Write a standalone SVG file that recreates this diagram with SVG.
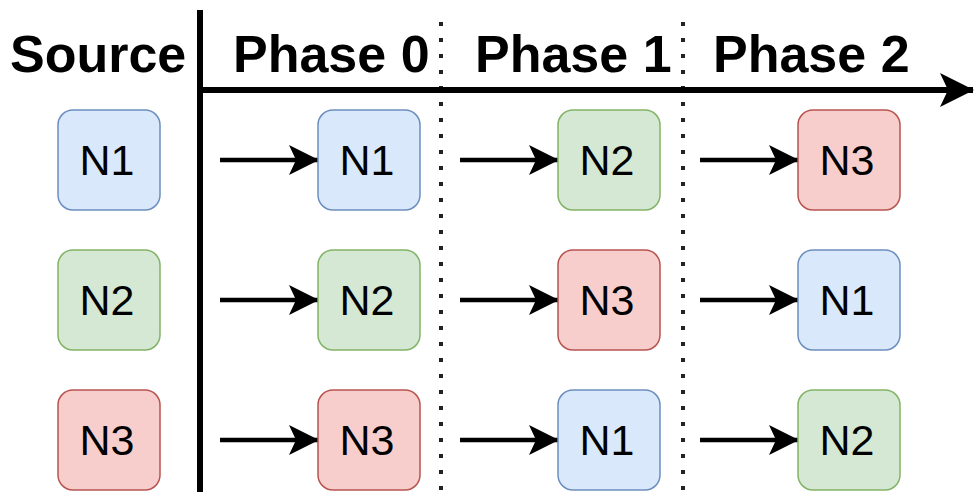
<svg xmlns="http://www.w3.org/2000/svg" width="975" height="492" viewBox="0 0 975 492">
<style>
.hdr{font-family:"Liberation Sans",Arial,Helvetica,sans-serif;font-weight:bold;font-size:52px;fill:#000}
.lbl{font-family:"Liberation Sans",Arial,Helvetica,sans-serif;font-size:43px;fill:#000;text-anchor:middle}
.blue{fill:#dae8fc;stroke:#6c8ebf;stroke-width:1.5}
.green{fill:#d5e8d4;stroke:#82b366;stroke-width:1.5}
.red{fill:#f8cecc;stroke:#b85450;stroke-width:1.5}
.dot{stroke:#222;stroke-width:4;stroke-dasharray:4 12;fill:none}
.conn{stroke:#000;stroke-width:4.5;fill:none}
</style>
<defs>
<marker id="ah" viewBox="0 0 30 32" refX="29" refY="16" markerWidth="30" markerHeight="32" markerUnits="userSpaceOnUse" orient="auto">
<path d="M0,1 L30,16 L0,31 L7,16 Z" fill="#000"/>
</marker>
<marker id="bigah" viewBox="0 0 34 36" refX="33" refY="18" markerWidth="34" markerHeight="36" markerUnits="userSpaceOnUse" orient="auto">
<path d="M0,1 L34,18 L0,35 L8,18 Z" fill="#000"/>
</marker>
</defs>
<rect width="975" height="492" fill="#fff"/>
<g id="headers">
<text class="hdr" x="10" y="72">Source</text>
<text class="hdr" x="233" y="72">Phase 0</text>
<text class="hdr" x="475" y="72">Phase 1</text>
<text class="hdr" x="713" y="72">Phase 2</text>
</g>
<g id="axes">
<line x1="441" y1="22" x2="441" y2="492" class="dot"/>
<line x1="683" y1="22" x2="683" y2="492" class="dot"/>
<line x1="200" y1="10" x2="200" y2="492" stroke="#000" stroke-width="6"/>
<line x1="197" y1="90" x2="973" y2="90" stroke="#000" stroke-width="6" marker-end="url(#bigah)"/>
</g>
<g id="connectors">
<line x1="220" y1="160" x2="318" y2="160" class="conn" marker-end="url(#ah)"/>
<line x1="220" y1="300" x2="318" y2="300" class="conn" marker-end="url(#ah)"/>
<line x1="220" y1="440" x2="318" y2="440" class="conn" marker-end="url(#ah)"/>
<line x1="460" y1="160" x2="558" y2="160" class="conn" marker-end="url(#ah)"/>
<line x1="460" y1="300" x2="558" y2="300" class="conn" marker-end="url(#ah)"/>
<line x1="460" y1="440" x2="558" y2="440" class="conn" marker-end="url(#ah)"/>
<line x1="700" y1="160" x2="798" y2="160" class="conn" marker-end="url(#ah)"/>
<line x1="700" y1="300" x2="798" y2="300" class="conn" marker-end="url(#ah)"/>
<line x1="700" y1="440" x2="798" y2="440" class="conn" marker-end="url(#ah)"/>
</g>
<g id="src-n1"><rect class="blue" x="58" y="110" width="102" height="100" rx="15"/><text class="lbl" x="107" y="175">N1</text></g>
<g id="src-n2"><rect class="green" x="58" y="250" width="102" height="100" rx="15"/><text class="lbl" x="107" y="315">N2</text></g>
<g id="src-n3"><rect class="red" x="58" y="390" width="102" height="100" rx="15"/><text class="lbl" x="107" y="455">N3</text></g>
<g id="p0-n1"><rect class="blue" x="318" y="110" width="102" height="100" rx="15"/><text class="lbl" x="367" y="175">N1</text></g>
<g id="p0-n2"><rect class="green" x="318" y="250" width="102" height="100" rx="15"/><text class="lbl" x="367" y="315">N2</text></g>
<g id="p0-n3"><rect class="red" x="318" y="390" width="102" height="100" rx="15"/><text class="lbl" x="367" y="455">N3</text></g>
<g id="p1-n2"><rect class="green" x="558" y="110" width="102" height="100" rx="15"/><text class="lbl" x="607" y="175">N2</text></g>
<g id="p1-n3"><rect class="red" x="558" y="250" width="102" height="100" rx="15"/><text class="lbl" x="607" y="315">N3</text></g>
<g id="p1-n1"><rect class="blue" x="558" y="390" width="102" height="100" rx="15"/><text class="lbl" x="607" y="455">N1</text></g>
<g id="p2-n3"><rect class="red" x="798" y="110" width="102" height="100" rx="15"/><text class="lbl" x="847" y="175">N3</text></g>
<g id="p2-n1"><rect class="blue" x="798" y="250" width="102" height="100" rx="15"/><text class="lbl" x="847" y="315">N1</text></g>
<g id="p2-n2"><rect class="green" x="798" y="390" width="102" height="100" rx="15"/><text class="lbl" x="847" y="455">N2</text></g>
</svg>
